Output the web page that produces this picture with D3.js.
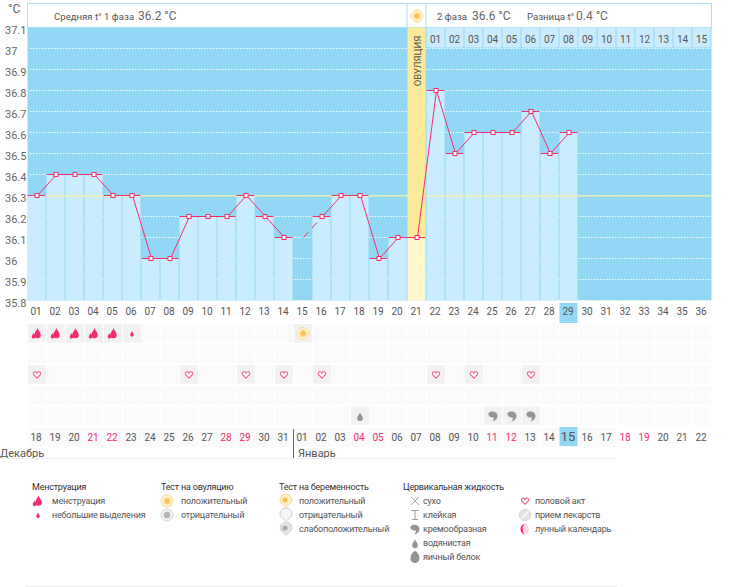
<!DOCTYPE html>
<meta charset="utf-8">
<style>
html, body { margin: 0; padding: 0; background: #fff; }
svg { display: block; }
text { font-family: Roboto, sans-serif; font-size: 10px; fill: #555; }
.axis path, .axis line { display: none; }
</style>
<body>
<svg id="chart" width="749" height="587"></svg>
<script src="https://cdnjs.cloudflare.com/ajax/libs/d3/7.8.5/d3.min.js"></script>
<script>
// data
var cycleDays = d3.range(1, 37).map(function(d) { return d < 10 ? "0" + d : "" + d; });
var dateLabels = ["18","19","20","21","22","23","24","25","26","27","28","29","30","31",
                  "01","02","03","04","05","06","07","08","09","10","11","12","13","14","15","16","17","18","19","20","21","22"];
var redDays = [4, 5, 11, 12, 18, 19, 25, 26, 32, 33];
var temps = [36.3,36.4,36.4,36.4,36.3,36.3,36.0,36.0,36.2,36.2,36.2,36.3,36.2,36.1,null,36.2,36.3,36.3,36.0,36.1,36.1,
             36.8,36.5,36.6,36.6,36.6,36.7,36.5,36.6];
var yTicks = [35.8,35.9,36,36.1,36.2,36.3,36.4,36.5,36.6,36.7,36.8,36.9,37,37.1];
var phaseLine = 36.3;
var skippedDay = 15, skippedTemp = 36.1;
var ovulationDay = 21;
var todayDay = 29;
var afterOvulation = ["01","02","03","04","05","06","07","08","09","10","11","12","13","14","15"];
var flowHeavy = [1, 2, 3, 4, 5];
var flowLight = [6];
var ovulationTest = [15];
var sexDays = [1, 9, 12, 14, 16, 22, 24, 27];
var wateryDays = [18];
var creamyDays = [25, 26, 27];
var legendHeads = ["Менструация", "Тест на овуляцию", "Тест на беременность", "Цервикальная жидкость"];
var legendFlow = [["heavy", "менструация"], ["light", "небольшие выделения"]];
var legendOvu = [["sun", "положительный"], ["grey", "отрицательный"]];
var legendPreg = [["pregPos", "положительный"], ["pregNeg", "отрицательный"], ["pregWeak", "слабоположительный"]];
var legendFluid = [["dry", "сухо"], ["sticky", "клейкая"], ["creamy", "кремообразная"], ["watery", "водянистая"], ["egg", "яичный белок"]];
var legendOther = [["heart", "половой акт"], ["pill", "прием лекарств"], ["moon", "лунный календарь"]];

var dark = "#92d8f5", light = "#caecfd", pink = "#f42d6c", border = "#a8dff5";
var svg = d3.select("#chart");
var days = d3.range(1, 37);
var x = d3.scaleBand().domain(days).range([27.5, 711.5]);
var y = d3.scaleLinear().domain([35.8, 37.1]).range([300.5, 27.5]);
var cx = function(d) { return x(d) + x.bandwidth() / 2; };

// textures
var defs = svg.append("defs");
function hatch(id, base, dot) {
  var p = defs.append("pattern").attr("id", id).attr("width", 4).attr("height", 4).attr("patternUnits", "userSpaceOnUse");
  p.append("rect").attr("width", 4).attr("height", 4).attr("fill", base);
  p.append("rect").attr("width", 1).attr("height", 1).attr("fill", dot);
  p.append("rect").attr("x", 2).attr("y", 2).attr("width", 1).attr("height", 1).attr("fill", dot);
}
hatch("cellTex", "#fbfbfc", "#f5f5f7");
hatch("barTex", light, "#c7eafc");
var grad = defs.append("radialGradient").attr("id", "sunGrad");
grad.append("stop").attr("offset", "0%").attr("stop-color", "#fbb93f");
grad.append("stop").attr("offset", "60%").attr("stop-color", "#fcc96a");
grad.append("stop").attr("offset", "100%").attr("stop-color", "#fdeec6");

// plot background and grid
svg.append("rect").attr("x", 27.5).attr("y", y(37.1)).attr("width", 684).attr("height", y(35.8) - y(37.1)).attr("fill", dark);
svg.selectAll(".grid").data(yTicks.slice(0, -1)).enter().append("line")
    .attr("x1", 30).attr("x2", 711.5)
    .attr("y1", function(d) { return y(d); }).attr("y2", function(d) { return y(d); })
    .attr("stroke", "#fff").attr("stroke-dasharray", "1.5 1.5").attr("opacity", 0.95);

// header
svg.append("rect").attr("x", 27.5).attr("y", 3.5).attr("width", 684).attr("height", 24).attr("fill", "#fff").attr("stroke", border);
svg.append("line").attr("x1", x(ovulationDay) - 0.5).attr("x2", x(ovulationDay) - 0.5).attr("y1", 3.5).attr("y2", 27.5).attr("stroke", border);
svg.append("line").attr("x1", x(ovulationDay) + 18.5).attr("x2", x(ovulationDay) + 18.5).attr("y1", 3.5).attr("y2", 27.5).attr("stroke", border);
function header(px, label, value, vx) {
  svg.append("text").attr("x", px).attr("y", 19.5).style("font-size", "9.6px").text(label);
  svg.append("text").attr("x", vx).attr("y", 19.5).style("font-size", "12px").style("fill", "#666").text(value);
}
header(54, "Средняя t° 1 фаза", "36.2 °C", 138);
header(437, "2 фаза", "36.6 °C", 472);
header(527, "Разница t°", "0.4 °C", 576);

// numbered days after ovulation
svg.selectAll(".after").data(afterOvulation).enter().append("rect")
    .attr("x", function(d, i) { return x(ovulationDay + 1 + i); }).attr("y", y(37.1))
    .attr("width", x.bandwidth() - 1).attr("height", y(37) - y(37.1) - 1).attr("fill", light);
svg.selectAll(".afterT").data(afterOvulation).enter().append("text")
    .attr("x", function(d, i) { return cx(ovulationDay + 1 + i) - 0.5; }).attr("y", 43)
    .attr("text-anchor", "middle").text(function(d) { return d; });

// bars
var barData = temps.map(function(t, i) { return {day: i + 1, t: t}; }).filter(function(d) { return d.t !== null; });
svg.append("rect").attr("x", x(ovulationDay)).attr("y", y(37.1)).attr("width", x.bandwidth() - 1)
    .attr("height", y(temps[ovulationDay - 1]) - y(37.1)).attr("fill", "#fdeb9b");
svg.selectAll(".bar").data(barData).enter().append("rect")
    .attr("x", function(d) { return x(d.day); })
    .attr("y", function(d) { return y(d.t); })
    .attr("width", x.bandwidth() - 1)
    .attr("height", function(d) { return y(35.8) - y(d.t); })
    .attr("fill", function(d) { return d.day === ovulationDay ? "#fff7cd" : "url(#barTex)"; });

// ovulation title
svg.append("text").attr("transform", "translate(" + (cx(ovulationDay) + 3.5) + ",61) rotate(-90)")
    .attr("text-anchor", "middle").style("font-size", "9.5px").text("ОВУЛЯЦИЯ");

// phase line
svg.append("line").attr("x1", x(2)).attr("x2", 712).attr("y1", y(phaseLine) + 0.5).attr("y2", y(phaseLine) + 0.5)
    .attr("stroke", "#fdf09b");

// temperature line
var line = d3.line().defined(function(d) { return d.t !== null; })
    .x(function(d) { return cx(d.day) + 0.5; }).y(function(d) { return y(d.t); });
var allDays = temps.map(function(t, i) { return {day: i + 1, t: t}; });
svg.append("path").attr("d", line(allDays)).attr("fill", "none").attr("stroke", pink).attr("stroke-width", 1);
svg.append("path").attr("d", line([{day: skippedDay, t: skippedTemp}, {day: skippedDay + 1, t: temps[skippedDay]}]))
    .attr("fill", "none").attr("stroke", pink).attr("stroke-dasharray", "7 6").attr("stroke-dashoffset", 0);
svg.selectAll(".cap").data(barData).enter().append("line")
    .attr("x1", function(d) { return x(d.day); })
    .attr("x2", function(d) { return x(d.day) + x.bandwidth() - 1; })
    .attr("y1", function(d) { return y(d.t); }).attr("y2", function(d) { return y(d.t); })
    .attr("stroke", pink);
svg.selectAll(".pt").data(barData).enter().append("rect")
    .attr("x", function(d) { return cx(d.day) - 2; })
    .attr("y", function(d) { return y(d.t) - 2; })
    .attr("width", 4).attr("height", 4)
    .attr("fill", "#fff").attr("stroke", pink);

// axes
var yAxis = svg.append("g").attr("class", "axis").attr("transform", "translate(5,2)")
    .call(d3.axisLeft(y).tickValues(yTicks).tickSize(0).tickPadding(0).tickFormat(String));
yAxis.selectAll("text").attr("text-anchor", "start").attr("x", 0).style("font-size", "11px").style("fill", "#666");
svg.append("text").attr("x", 8).attr("y", 13).style("font-size", "12px").style("fill", "#666").text("°C");

svg.append("rect").attr("x", x(todayDay)).attr("y", 303).attr("width", x.bandwidth() - 1).attr("height", 20).attr("fill", dark);
var dayAxis = svg.append("g").attr("class", "axis").attr("transform", "translate(-1,303)")
    .call(d3.axisBottom(x).tickSize(0).tickPadding(5).tickFormat(function(d, i) { return cycleDays[i]; }));
dayAxis.selectAll("text").style("font-size", "10px").style("fill", "#555");

// symptom rows
var rowY = d3.scaleBand().domain(d3.range(5)).range([323.5, 426.5]);
var rows = svg.append("g");
rowY.domain().forEach(function(r) {
  rows.selectAll(".c" + r).data(days).enter().append("rect")
      .attr("x", function(d) { return x(d) + 0.5; })
      .attr("y", rowY(r) + 0.5)
      .attr("width", 18).attr("height", 18.5)
      .attr("fill", "url(#cellTex)");
});
function active(list, r) {
  rows.selectAll(".a" + r + list[0]).data(list).enter().append("rect")
      .attr("x", function(d) { return x(d) + 0.5; }).attr("y", rowY(r) + 0.5)
      .attr("width", 18).attr("height", 18.5).attr("fill", "#f2f2f3");
}
function place(list, r, type) {
  list.forEach(function(d) { icon(type, cx(d), rowY(r) + 10); });
}

// icons, centred on px, py
function icon(type, px, py) {
  var g = svg.append("g").attr("transform", "translate(" + px + "," + py + ")");
  var drop = function(dx, dy, s, c) {
    g.append("path").attr("transform", "translate(" + dx + "," + dy + ") scale(" + s + ")")
      .attr("d", "M0,-5C0.8,-2.5 3,-1 3,1.4A3,3 0 0 1 -3,1.4C-3,-1 -0.8,-2.5 0,-5Z").attr("fill", c);
  };
  if (type === "heavy") { drop(0.5, 0, 1.1, pink); drop(-3.5, 2.5, 0.6, pink); }
  if (type === "light") { drop(0, 0.5, 0.6, pink); }
  if (type === "sun") {
    g.append("circle").attr("r", 6).attr("fill", "#fdf3d6").attr("stroke", "#fbd98b");
    g.append("circle").attr("r", 4).attr("fill", "url(#sunGrad)");
  }
  if (type === "grey") {
    g.append("circle").attr("r", 6).attr("fill", "#f1f1f1").attr("stroke", "#d4d4d4");
    g.append("circle").attr("r", 3.2).attr("fill", "#b2b2b2");
  }
  if (type === "pregPos" || type === "pregNeg" || type === "pregWeak") {
    var ring = type === "pregPos" ? "#fbd98b" : "#cfcfcf";
    var fill = type === "pregPos" ? "#fdf0ca" : type === "pregNeg" ? "#f6f6f6" : "#e5e5e5";
    g.append("path").attr("d", "M-6,-1A6,6 0 1 1 6,-1C6,2 2,4 0,6.5C-2,4 -6,2 -6,-1Z")
      .attr("fill", fill).attr("stroke", ring);
    if (type !== "pregNeg") {
      g.append("circle").attr("cx", -1).attr("cy", -1).attr("r", 2.6).attr("fill", type === "pregPos" ? "#fbbf57" : "#a9a9a9");
    }
  }
  if (type === "dry") {
    g.append("path").attr("d", "M-4,-4L4,4M4,-4L-4,4").attr("stroke", "#aaa").attr("fill", "none");
  }
  if (type === "sticky") {
    g.append("path").attr("d", "M-4,-4.5H4M-3,4.5H3M0,-4.5V4.5").attr("stroke", "#999").attr("fill", "none");
  }
  if (type === "creamy") {
    g.append("path").attr("d", "M-4.5,-2.5C-3,-5.5 5,-5 4.5,0.5C4.2,3 2.5,4.5 -0.5,5.5C0.8,3.8 1.2,2.5 0.5,1.5C-2,2 -5,0.5 -4.5,-2.5Z").attr("fill", "#949494");
  }
  if (type === "watery") { drop(0, 1, 0.95, "#949494"); }
  if (type === "egg") {
    g.append("path").attr("d", "M0,-6C3,-5 4.5,-1 4.5,1.5A4.5,4.5 0 0 1 -4.5,1.5C-4.5,-1 -3,-5 0,-6Z").attr("fill", "#949494");
  }
  if (type === "heart") {
    g.append("path").attr("transform", "scale(0.8)")
      .attr("d", "M0,4.2L-4,0.2C-5.6,-2 -3.8,-4 -2,-3.6C-1,-3.4 -0.4,-2.8 0,-2C0.4,-2.8 1,-3.4 2,-3.6C3.8,-4 5.6,-2 4,0.2Z")
      .attr("fill", "#fff").attr("stroke", "#f4578c").attr("stroke-width", 1.3);
  }
  if (type === "pill") {
    g.append("circle").attr("r", 5.5).attr("fill", "#e4e4e4").attr("stroke", "#d4d4d4");
    g.append("path").attr("d", "M-3.5,3.5L3.5,-3.5").attr("stroke", "#fff").attr("stroke-width", 1.5);
  }
  if (type === "moon") {
    g.append("path").attr("d", "M1,-5.5A5.5,5.5 0 1 0 1,5.5A3.2,5.5 0 0 1 1,-5.5Z").attr("fill", pink);
    g.append("path").attr("d", "M1.5,-5A3,5 0 0 0 1.5,5A5,5 0 0 0 3.5,0A5,5 0 0 0 1.5,-5Z").attr("fill", "#fbd5e2");
  }
}

active(flowHeavy, 0); active(flowLight, 0); active(ovulationTest, 0);
active(sexDays, 2);
active(wateryDays, 4); active(creamyDays, 4);
place(flowHeavy, 0, "heavy"); place(flowLight, 0, "light"); place(ovulationTest, 0, "sun");
place(sexDays, 2, "heart");
place(wateryDays, 4, "watery"); place(creamyDays, 4, "creamy");
icon("sun", cx(ovulationDay), 16);

// calendar dates
svg.selectAll(".dcell").data(days.filter(function(d) { return d <= 31; })).enter().append("rect")
    .attr("x", function(d) { return x(d) + 0.5; }).attr("y", 428).attr("width", 18).attr("height", 19)
    .attr("fill", "url(#cellTex)");
svg.append("rect").attr("x", x(todayDay)).attr("y", 427).attr("width", x.bandwidth() - 1).attr("height", 19).attr("fill", dark);
var dateAxis = svg.append("g").attr("class", "axis").attr("transform", "translate(-1,427)")
    .call(d3.axisBottom(x).tickSize(0).tickPadding(7).tickFormat(function(d, i) { return dateLabels[i]; }));
dateAxis.selectAll("text")
    .style("font-size", function(d) { return d === todayDay ? "13px" : "10px"; })
    .style("fill", function(d) { return redDays.indexOf(d) >= 0 ? pink : "#555"; })
    .attr("dy", function(d) { return d === todayDay ? "0.5em" : "0.71em"; });

svg.append("line").attr("x1", 293.5).attr("x2", 293.5).attr("y1", 429).attr("y2", 458).attr("stroke", "#666");
svg.append("text").attr("x", 0).attr("y", 457).style("font-size", "11px").text("Декабрь");
svg.append("text").attr("x", 298).attr("y", 457).style("font-size", "11px").text("Январь");
svg.append("line").attr("x1", 0).attr("x2", 617).attr("y1", 458.5).attr("y2", 458.5).attr("stroke", "#eee");
svg.append("line").attr("x1", 26).attr("x2", 617).attr("y1", 586.5).attr("y2", 586.5).attr("stroke", "#eee");

// legend
function legendText(sel) {
  return sel.style("font-size", "9px").style("letter-spacing", "-0.2px");
}
function legendCol(head, items, hx, ix, tx) {
  if (head) legendText(svg.append("text").attr("x", hx).attr("y", 490).style("fill", "#333").text(head));
  items.forEach(function(it, i) {
    icon(it[0], ix, 501 + i * 14);
    legendText(svg.append("text").attr("x", tx).attr("y", 504 + i * 14).text(it[1]));
  });
}
legendCol(legendHeads[0], legendFlow, 32, 38, 52);
legendCol(legendHeads[1], legendOvu, 161, 167, 181);
legendCol(legendHeads[2], legendPreg, 279, 286, 299);
legendCol(legendHeads[3], legendFluid, 403, 415, 423);
legendCol(null, legendOther, 0, 525, 535);
</script>
</body>
